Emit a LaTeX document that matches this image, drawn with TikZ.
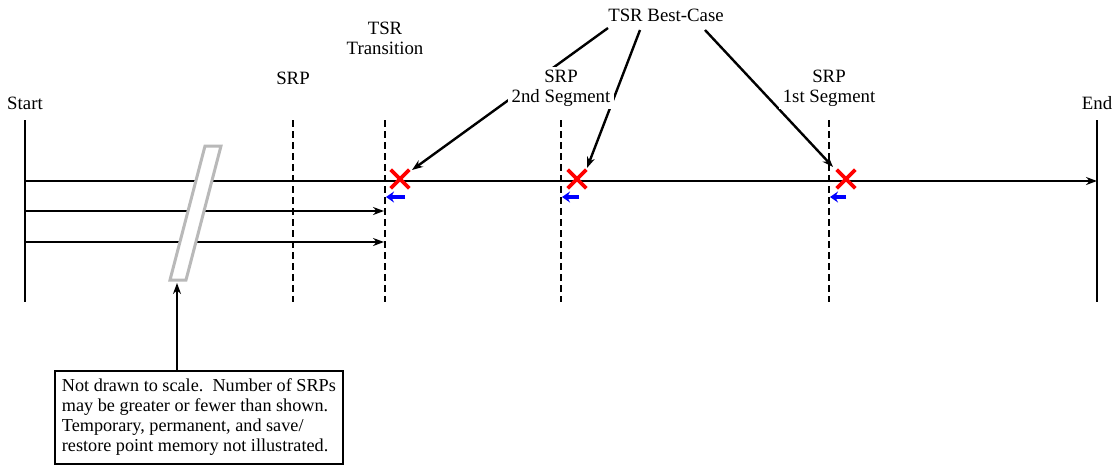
\documentclass[tikz,border=0pt]{standalone}
\usepackage{fontspec}
\setmainfont{Liberation Serif}
\usetikzlibrary{arrows.meta,shapes.misc}
\begin{document}
\begin{tikzpicture}[x=1pt,y=-1pt,
  lbl/.style={font=\fontsize{18.8}{20}\selectfont, align=center, inner sep=1pt},
  wlbl/.style={lbl, fill=white, inner xsep=4pt, inner ysep=3pt},
  bound/.style={line width=2.8pt},
  srpline/.style={line width=2.6pt, dash pattern=on 7pt off 4pt},
  tl/.style={line width=2.4pt, -{Stealth[length=11pt,width=8pt]}},
  ptr/.style={line width=2.4pt, -{Stealth[length=11pt,width=8pt]}},
  back/.style={line width=3.8pt, blue, -{Stealth[length=8pt,width=11pt]}},
  xmark/.style={cross out, draw=red, line width=3.6pt, minimum size=15pt, inner sep=0pt},
  note/.style={draw, line width=1.8pt, font=\fontsize{18.2}{20}\selectfont, align=left, inner xsep=7pt, inner ysep=8pt, anchor=north west}
]
\useasboundingbox (0,0) rectangle (1119,469);
% boundaries
\coordinate (st) at (25,120); \coordinate (sb) at (25,302);
\coordinate (et) at (1097,120); \coordinate (eb) at (1097,302);
\draw[bound] (st) -- (sb);
\draw[bound] (et) -- (eb);
\node[lbl] (start) at (25,103) {Start};
\node[lbl] (end) at (1097,103) {End};
% dashed SRP lines
\coordinate (d1t) at (293,120); \coordinate (d1b) at (293,302);
\coordinate (d2t) at (385,120); \coordinate (d2b) at (385,302);
\coordinate (d3t) at (561,120); \coordinate (d3b) at (561,302);
\coordinate (d4t) at (829,120); \coordinate (d4b) at (829,302);
\draw[srpline] (d1t) -- (d1b);
\draw[srpline] (d2t) -- (d2b);
\draw[srpline] (d3t) -- (d3b);
\draw[srpline] (d4t) -- (d4b);
% timelines
\coordinate (m0) at (25,181); \coordinate (m1) at (1097,181);
\coordinate (a0) at (25,211); \coordinate (a1) at (384,211);
\coordinate (b0) at (25,242); \coordinate (b1) at (384,242);
\draw[tl] (m0) -- (m1);
\draw[tl] (a0) -- (a1);
\draw[tl] (b0) -- (b1);
% gray break bar
\coordinate (g1) at (205,146); \coordinate (g2) at (221,146);
\coordinate (g3) at (186,280); \coordinate (g4) at (170,280);
\draw[gray!55, line width=3pt, fill=white, line join=miter] (g1) -- (g2) -- (g3) -- (g4) -- cycle;
% red X marks
\node[xmark] (x1) at (400,179) {};
\node[xmark] (x2) at (577,179) {};
\node[xmark] (x3) at (846,179) {};
% blue back arrows
\coordinate (u1) at (405,197); \coordinate (v1) at (386,197);
\coordinate (u2) at (579,197); \coordinate (v2) at (562,197);
\coordinate (u3) at (846,197); \coordinate (v3) at (830,197);
\draw[back] (u1) -- (v1);
\draw[back] (u2) -- (v2);
\draw[back] (u3) -- (v3);
% TSR best case arrows
\node[lbl] (bc) at (666,15) {TSR Best-Case};
\coordinate (bc1) at (608,28); \coordinate (e1) at (412,170);
\coordinate (bc2) at (640,30); \coordinate (e2) at (587,168);
\coordinate (bc3) at (705,30); \coordinate (e3) at (833,167);
\draw[ptr] (bc1) -- (e1);
\draw[ptr] (bc2) -- (e2);
\draw[ptr] (bc3) -- (e3);
% labels
\node[wlbl] (srp1) at (293,78) {SRP};
\node[wlbl] (tsrt) at (385,38) {TSR\\Transition};
\node[wlbl] (srp2) at (561,88) {SRP\\2nd Segment};
\node[wlbl] (srp3) at (829,88) {SRP\\1st Segment};
% note
\node[note] (nb) at (54,370) {Not drawn to scale.\ \ Number of SRPs\\may be greater or fewer than shown.\\Temporary, permanent, and save/\\restore point memory not illustrated.};
\coordinate (gb) at (177,283);
\draw[ptr] (nb.north west -| gb) -- (gb);
\end{tikzpicture}
\end{document}
